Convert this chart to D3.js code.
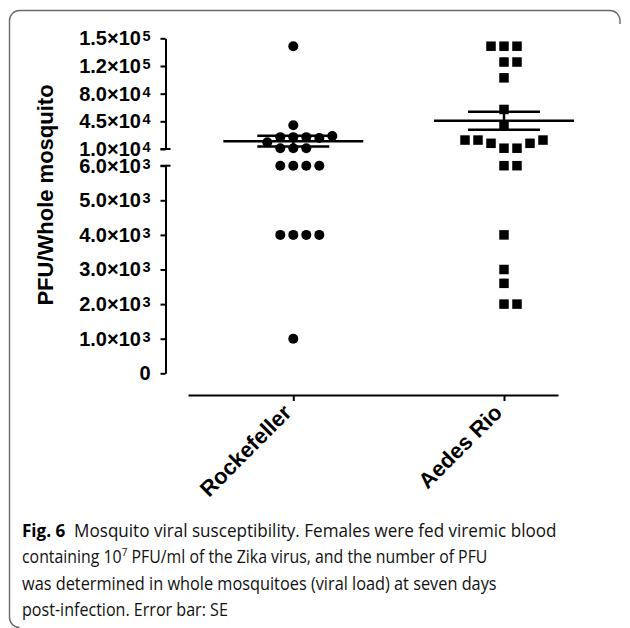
<!DOCTYPE html>
<html>
<head>
<meta charset="utf-8">
<script src="https://cdn.jsdelivr.net/npm/d3@7"></script>
<style>
  body { margin: 0; background: #fff; }
  svg { display: block; }
  .axis text { font-family: "Liberation Sans", Arial, sans-serif; font-weight: bold; font-size: 20px; fill: #000; }
  .axis path, .axis line { stroke: #000; stroke-width: 2; }
  .y-title { font-family: "Liberation Sans", Arial, sans-serif; font-weight: bold; font-size: 22px; }
  .x-axis text { font-size: 22px; }
  .caption { font-family: "Open Sans", "Noto Sans", sans-serif; font-size: 17.5px; fill: #111; white-space: pre; }
</style>
</head>
<body>
<svg id="chart" width="630" height="628"></svg>
<script>
// ---- data ----
const categories = ["Rockefeller", "Aedes Rio"];

const rockefeller = [140000, 40000, 11000, 11000, 11000, 25000, 25000, 25000, 24000, 18500, 26400,
  6000, 6000, 6000, 6000, 4000, 4000, 4000, 4000, 1000];
const aedesRio = [140000, 140000, 140000, 120000, 120000, 100000, 60000, 40000,
  11000, 11000, 17200, 17200, 21300, 21300, 21300, 6000, 6000, 4000, 3000, 2600, 2000, 2000];

const upperTicks = [10000, 45000, 80000, 115000, 150000];
const upperTickLabels = ["1.0×10^4", "4.5×10^4", "8.0×10^4", "1.2×10^5", "1.5×10^5"];
const lowerTicks = [0, 1000, 2000, 3000, 4000, 5000, 6000];
const lowerTickLabels = ["0", "1.0×10^3", "2.0×10^3", "3.0×10^3", "4.0×10^3", "5.0×10^3", "6.0×10^3"];

const yTitle = "PFU/Whole mosquito";

const captionLines = [
  [{ t: "Fig. 6", bold: true }, { t: "Mosquito viral susceptibility. Females were fed viremic blood", dx: 9 }],
  [{ t: "containing 10" }, { t: "7", sup: true }, { t: " PFU/ml of the Zika virus, and the number of PFU" }],
  [{ t: "was determined in whole mosquitoes (viral load) at seven days" }],
  [{ t: "post-infection. Error bar: SE" }]
];

// ---- layout ----
const svg = d3.select("#chart");
const axisX = 165.5;
const breakValue = 10000, lowTop = 6000;

const yHi = d3.scaleLinear().domain([10000, 150000]).range([149, 38.3]);
const yLo = d3.scaleLinear().domain([0, 6000]).range([373.3, 165.7]);
const yPos = v => v >= breakValue ? yHi(v) : yLo(v);

const x = d3.scalePoint().domain(categories).range([188, 558]).padding(0.378).align(0.661);

// frame round the figure
svg.append("path")
  .attr("d", "M19.5,627.5 A10,10 0 0 1 9.5,617.5 V20.5 A10,10 0 0 1 19.5,10.5 H610 A10,10 0 0 1 620,20.5 V24")
  .attr("fill", "none")
  .attr("stroke", "#6a6a6a")
  .attr("stroke-width", 1.4);

// y axes (broken)
function labelTicks(g, labels, ticks) {
  g.selectAll(".tick text").each(function (d) {
    const lab = labels[ticks.indexOf(d)];
    const [base, exp] = lab.split("^");
    const t = d3.select(this).text(null);
    t.append("tspan").text(base);
    if (exp) t.append("tspan").attr("dx", 1.5).attr("dy", -4).style("font-size", "14.5px").text(exp);
  });
}

const upperAxis = svg.append("g")
  .attr("class", "axis y-axis")
  .attr("transform", `translate(${axisX},0)`)
  .call(d3.axisLeft(yHi).tickValues(upperTicks).tickSize(5).tickSizeOuter(0).tickPadding(10));
labelTicks(upperAxis, upperTickLabels, upperTicks);

const lowerAxis = svg.append("g")
  .attr("class", "axis y-axis")
  .attr("transform", `translate(${axisX},0)`)
  .call(d3.axisLeft(yLo).tickValues(lowerTicks).tickSize(5).tickSizeOuter(0).tickPadding(10));
labelTicks(lowerAxis, lowerTickLabels, lowerTicks);

// break marks stick out to the right
[yHi(breakValue), yLo(lowTop)].forEach(yy => {
  svg.append("line")
    .attr("x1", axisX - 5).attr("x2", axisX + 5)
    .attr("y1", yy).attr("y2", yy)
    .attr("stroke", "#000").attr("stroke-width", 2);
});

svg.append("text")
  .attr("class", "y-title")
  .attr("text-anchor", "middle")
  .attr("transform", "translate(53,195) rotate(-90)")
  .text(yTitle);

// x axis
const xAxisG = svg.append("g")
  .attr("class", "axis x-axis")
  .attr("transform", "translate(0,395)")
  .call(d3.axisBottom(x).tickSize(6).tickSizeOuter(0));

xAxisG.selectAll(".tick text")
  .attr("x", 0).attr("y", 0).attr("dy", 0)
  .attr("text-anchor", "end")
  .attr("transform", "translate(-1,19) rotate(-45)");

// simple column scatter: same-row points are pushed sideways into free slots
function swarm(values, cx, step, minGap) {
  const placed = [];
  const order = d3.range(0, 14).map(i => (i % 2 ? (i + 1) / 2 : -i / 2));
  return values.map(v => {
    const y = yPos(v);
    const k = order.find(s => !placed.some(p => p.k === s && Math.abs(p.y - y) < minGap));
    placed.push({ k, y });
    return { v, x: cx + k * step, y };
  });
}

const rockPts = swarm(rockefeller, x("Rockefeller"), 13, 10);
const aedesPts = swarm(aedesRio, x("Aedes Rio"), 13, 10);

svg.append("g").selectAll("circle")
  .data(rockPts)
  .join("circle")
  .attr("cx", d => d.x)
  .attr("cy", d => d.y)
  .attr("r", 5)
  .attr("fill", "#000");

const sq = 9.5;
svg.append("g").selectAll("rect")
  .data(aedesPts)
  .join("rect")
  .attr("x", d => d.x - sq / 2)
  .attr("y", d => d.y - sq / 2)
  .attr("width", sq)
  .attr("height", sq)
  .attr("fill", "#000");

// mean +/- SE
const groups = [
  { cat: "Rockefeller", values: rockefeller },
  { cat: "Aedes Rio", values: aedesRio }
].map(g => {
  const m = d3.mean(g.values);
  const se = d3.deviation(g.values) / Math.sqrt(g.values.length);
  return { cat: g.cat, mean: m, lo: m - se, hi: m + se };
});

const errG = svg.append("g").attr("stroke", "#000").attr("stroke-width", 2.5);
groups.forEach(g => {
  const cx = x(g.cat);
  errG.append("line").attr("x1", cx - 70).attr("x2", cx + 70).attr("y1", yPos(g.mean)).attr("y2", yPos(g.mean));
  errG.append("line").attr("x1", cx - 36).attr("x2", cx + 36).attr("y1", yPos(g.hi)).attr("y2", yPos(g.hi));
  errG.append("line").attr("x1", cx - 36).attr("x2", cx + 36).attr("y1", yPos(g.lo)).attr("y2", yPos(g.lo));
  errG.append("line").attr("x1", cx).attr("x2", cx).attr("y1", yPos(g.hi)).attr("y2", yPos(g.lo));
});

// caption, each line squeezed to the width it has in the figure
const captionLeft = 22;
const captionEnds = [557, 488, 497, 228];
const captionBase = [536.5, 563, 589.5, 616];

captionLines.forEach((segs, i) => {
  const t = svg.append("text").attr("class", "caption");
  segs.forEach(s => {
    const sp = t.append("tspan").text(s.t);
    if (s.bold) sp.style("font-weight", "bold").style("fill", "#000");
    if (s.dx) sp.attr("dx", s.dx);
    if (s.sup) sp.attr("dy", -7).style("font-size", "11px");
  });
  // put the baseline back after a superscript
  t.selectAll("tspan").each(function (d, j) {
    if (j > 0 && segs[j - 1].sup) d3.select(this).attr("dy", 7);
  });
  const w = t.node().getBBox().width;
  const sx = (captionEnds[i] - captionLeft) / w;
  t.attr("transform", `translate(${captionLeft},${captionBase[i]}) scale(${sx},1)`);
});
</script>
</body>
</html>
